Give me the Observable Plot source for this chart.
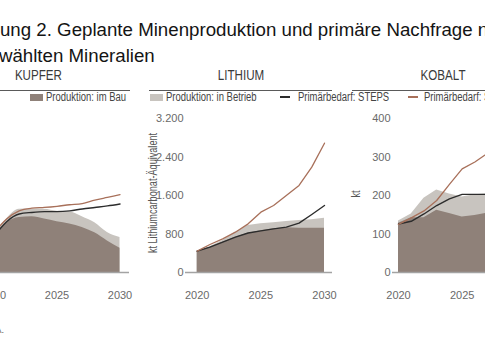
<!DOCTYPE html>
<html><head><meta charset="utf-8">
<script src="https://cdn.jsdelivr.net/npm/d3@7"></script>
<script src="https://cdn.jsdelivr.net/npm/@observablehq/plot@0.6"></script>
<style>
html,body{margin:0;padding:0;background:#fff;}
body{width:485px;height:360px;overflow:hidden;position:relative;font-family:"Liberation Sans",Arial,sans-serif;}
.title{position:absolute;left:-52px;white-space:nowrap;font-size:18.7px;line-height:20px;color:#141414;}
.head{position:absolute;top:66px;width:183px;height:16px;padding-bottom:8px;border-bottom:1.4px solid #5a5a5a;text-align:center;}
.head span{display:inline-block;font-size:14.5px;line-height:16px;color:#3a3a3a;transform:scaleX(0.8);}
.lg{position:absolute;font-size:12px;line-height:14px;color:#444;white-space:nowrap;transform:scaleX(0.79);transform-origin:left center;}
.sw{position:absolute;height:7px;}
.ln{position:absolute;height:2px;}
.panel{position:absolute;top:104px;width:183px;height:202px;}
.panel svg{max-width:none !important;}
.ylab{position:absolute;white-space:nowrap;font-size:12px;line-height:14px;color:#555;transform:translate(-50%,-50%) rotate(-90deg) scaleX(0.76);}
.note{position:absolute;right:481px;top:325px;font-size:9px;line-height:11px;color:#555;white-space:nowrap;}
</style></head>
<body>
<div class="title" style="top:20px">Abbildung 2. Geplante Minenproduktion und primäre Nachfrage nach</div>
<div class="title" style="top:46px">ausgewählten Mineralien</div>
<div id="root"></div>
<div class="note">Quelle: IEA.</div>
<script>
const years = [2020, 2021, 2022, 2023, 2024, 2025, 2026, 2027, 2028, 2029, 2030];

const panelTitles = ["KUPFER", "LITHIUM", "KOBALT"];
const yLabels = ["Mt", "kt Lithiumcarbonat-Äquivalent", "kt"];
const yMax = [40, 3200, 400];
const yTicks = [[0, 10, 20, 30, 40], [0, 800, 1600, 2400, 3200], [0, 100, 200, 300, 400]];
const xTicks = [2020, 2025, 2030];

const legendLabels = ["Produktion: im Bau", "Produktion: in Betrieb", "Primärbedarf: STEPS", "Primärbedarf: SDS"];

// Kupfer (Mt)
const kupferImBau     = [9.3, 12.9, 14.3, 14.5, 13.9, 13.2, 12.6, 11.7, 10.3, 8.2, 6.3];
const kupferInBetrieb = [0.5, 1.0, 2.1, 2.0, 2.5, 2.7, 3.2, 2.8, 2.6, 2.2, 2.8];
const kupferSTEPS     = [9.3, 13.2, 15.2, 15.6, 15.8, 15.8, 16.0, 16.5, 16.9, 17.3, 17.8];
const kupferSDS       = [10.3, 13.9, 16.0, 16.7, 16.9, 17.2, 17.6, 17.9, 18.8, 19.5, 20.2];

// Lithium (kt LCE)
const lithiumImBau     = [443, 526, 630, 734, 817, 870, 907, 928, 921, 921, 921];
const lithiumInBetrieb = [0, 9, 35, 104, 160, 141, 125, 132, 159, 173, 208];
const lithiumSTEPS     = [443, 526, 630, 734, 820, 865, 907, 942, 1025, 1205, 1392];
const lithiumSDS       = [443, 582, 700, 838, 1011, 1254, 1392, 1600, 1808, 2189, 2687];

// Kobalt (kt)
const kobaltImBau     = [128, 142, 142, 162, 153, 144, 148, 154, 150, 146, 142];
const kobaltInBetrieb = [6, 10, 51, 52, 51, 52, 54, 50, 50, 50, 50];
const kobaltSTEPS     = [126, 133, 152, 174, 191, 203, 203, 203, 206, 210, 215];
const kobaltSDS       = [125, 142, 160, 187, 229, 269, 287, 310, 335, 360, 385];

const colors = {bau: "#8f8179", betrieb: "#c8c4bf", steps: "#2c2c2c", sds: "#a8705a"};

const series = [
  {bau: kupferImBau, betrieb: kupferInBetrieb, steps: kupferSTEPS, sds: kupferSDS},
  {bau: lithiumImBau, betrieb: lithiumInBetrieb, steps: lithiumSTEPS, sds: lithiumSDS},
  {bau: kobaltImBau, betrieb: kobaltInBetrieb, steps: kobaltSTEPS, sds: kobaltSDS}
];

// layout (pixels)
const panelLeft = [-53, 149, 352];
const layout = [
  {ml: 35, mr: 1, xr: [46.5, 172.5], curve: "monotone-x"},
  {ml: 36, mr: 0, xr: [47.7, 175], curve: "linear"},
  {ml: 40, mr: 0, xr: [46, 173.3], curve: "linear"}
];
const legendLayout = [
  {kind: "sw", x: 30, w: 13, tx: 46},
  {kind: "sw", x: 150, w: 13, tx: 166},
  {kind: "ln", x: 280, w: 10, tx: 298},
  {kind: "ln", x: 408, w: 10, tx: 424}
];
const legendY = 97;
const yLabelPos = [{x: -48.5, y: 194}, {x: 152.5, y: 193}, {x: 355.5, y: 194}];

const fmt = d3.formatLocale({decimal: ",", thousands: ".", grouping: [3], currency: ["", "€"]}).format(",d");
const root = document.getElementById("root");
function el(tag, cls, text) {
  const e = document.createElement(tag);
  if (cls) e.className = cls;
  if (text != null) e.textContent = text;
  return e;
}

// headers
panelTitles.forEach((t, i) => {
  const d = el("div", "head");
  d.style.left = panelLeft[i] + "px";
  d.appendChild(el("span", null, t));
  root.appendChild(d);
});

// legend
const legendColors = [colors.bau, colors.betrieb, colors.steps, colors.sds];
legendLabels.forEach((lab, i) => {
  const L = legendLayout[i];
  const s = el("div", L.kind);
  s.style.left = L.x + "px";
  s.style.width = L.w + "px";
  s.style.top = (legendY - (L.kind === "sw" ? 3.5 : 1)) + "px";
  s.style.background = legendColors[i];
  root.appendChild(s);
  const t = el("div", "lg", lab);
  t.style.left = L.tx + "px";
  t.style.top = (legendY - 7) + "px";
  root.appendChild(t);
});

// panels
series.forEach((s, i) => {
  const L = layout[i];
  const rows = years.map((year, j) => ({
    year,
    bau: s.bau[j],
    total: s.bau[j] + s.betrieb[j],
    steps: s.steps[j],
    sds: s.sds[j]
  }));
  const chart = Plot.plot({
    width: 183,
    height: 202,
    marginTop: 14,
    marginBottom: 34,
    marginLeft: L.ml,
    marginRight: L.mr,
    style: {fontFamily: '"Liberation Sans", Arial, sans-serif', fontSize: "11px", color: "#6a6a6a", background: "transparent", overflow: "visible"},
    x: {domain: [2020, 2030], range: L.xr, ticks: xTicks, tickFormat: d => String(d), tickSize: 0, tickPadding: 19, label: null},
    y: {domain: [0, yMax[i]], ticks: yTicks[i], tickFormat: fmt, tickSize: 0, tickPadding: 2, label: null},
    marks: [
      Plot.areaY(rows, {x: "year", y: "total", fill: colors.betrieb, curve: L.curve}),
      Plot.areaY(rows, {x: "year", y: "bau", fill: colors.bau, curve: L.curve}),
      Plot.ruleY([0], {stroke: "#a3a3a3", strokeWidth: 1.5}),
      Plot.line(rows, {x: "year", y: "steps", stroke: colors.steps, strokeWidth: 1.4, curve: L.curve}),
      Plot.line(rows, {x: "year", y: "sds", stroke: colors.sds, strokeWidth: 1.3, curve: L.curve})
    ]
  });
  const wrap = el("div", "panel");
  wrap.style.left = panelLeft[i] + "px";
  wrap.appendChild(chart);
  root.appendChild(wrap);

  const yl = el("div", "ylab", yLabels[i]);
  yl.style.left = yLabelPos[i].x + "px";
  yl.style.top = yLabelPos[i].y + "px";
  root.appendChild(yl);
});
</script>
</body></html>
